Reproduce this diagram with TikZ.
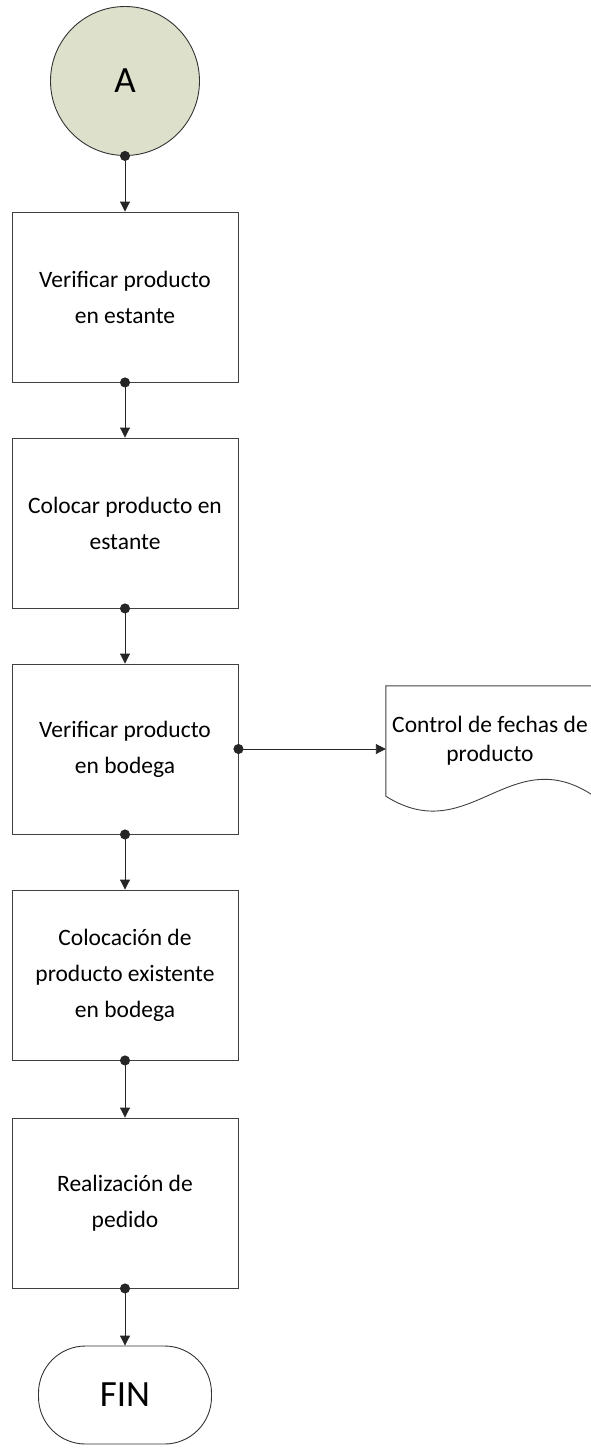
\documentclass[tikz,border=0pt]{standalone}
\usepackage{fontspec}
\setmainfont{Carlito}
\usetikzlibrary{arrows.meta,calc}
\definecolor{conngreen}{RGB}{221,224,203}
\tikzstyle{block} = [draw=black!75, line width=0.9pt, rectangle,
    minimum width=226pt, minimum height=170pt, align=center,
    font=\fontsize{23.5}{36}\selectfont]
\tikzstyle{conn} = [draw=black!80, line width=0.9pt, fill=conngreen, circle,
    minimum size=149pt, inner sep=0pt, font=\fontsize{37}{40}\selectfont]
\tikzstyle{term} = [draw=black!80, line width=0.9pt, rectangle, rounded corners=47pt,
    minimum width=173pt, minimum height=98pt, font=\fontsize{37}{40}\selectfont]
\tikzstyle{doc} = [rectangle, minimum width=208pt, minimum height=110pt,
    inner sep=1pt, align=center, font=\fontsize{23.5}{29}\selectfont]
\tikzstyle{flow} = [{Circle[length=10pt]}-{Triangle[length=10pt,width=10pt]},
    line width=0.9pt, black!85, shorten <=-5pt]

\begin{document}
\begin{tikzpicture}[auto, node distance=226pt, x=1pt, y=-1pt]
    \useasboundingbox (0,0) rectangle (591,1448);
    \node [conn] (A) at (125,81) {A};
    \node [block, below of=A, node distance=216pt] (shelf) {Verificar producto\\en estante};
    \node [block, below of=shelf] (place) {Colocar producto en\\estante};
    \node [block, below of=place] (check) {Verificar producto\\en bodega};
    \node [block, below of=check] (stock) {Colocación de\\producto existente\\en bodega};
    \node [block, below of=stock, node distance=228pt] (order) {Realización de\\pedido};
    \node [term, below of=order, node distance=192pt] (fin) {FIN};
    \node [doc, right of=check, node distance=365pt, yshift=8pt] (dates) {Control de fechas de\\producto};
    % document outline with wavy bottom
    \draw [line width=0.9pt, black!75] (dates.south east) -- (dates.north east) -- (dates.north west) -- (dates.south west)
        .. controls ($(dates.south west)+(84,53)$) and ($(dates.south east)+(-84,-57)$) .. (dates.south east);
    \draw [flow] (A) -- (shelf);
    \draw [flow] (shelf) -- (place);
    \draw [flow] (place) -- (check);
    \draw [flow] (check) -- (stock);
    \draw [flow] (stock) -- (order);
    \draw [flow] (order) -- (fin);
    \draw [flow] (check.east) -- (check.east -| dates.west);
\end{tikzpicture}
\end{document}
